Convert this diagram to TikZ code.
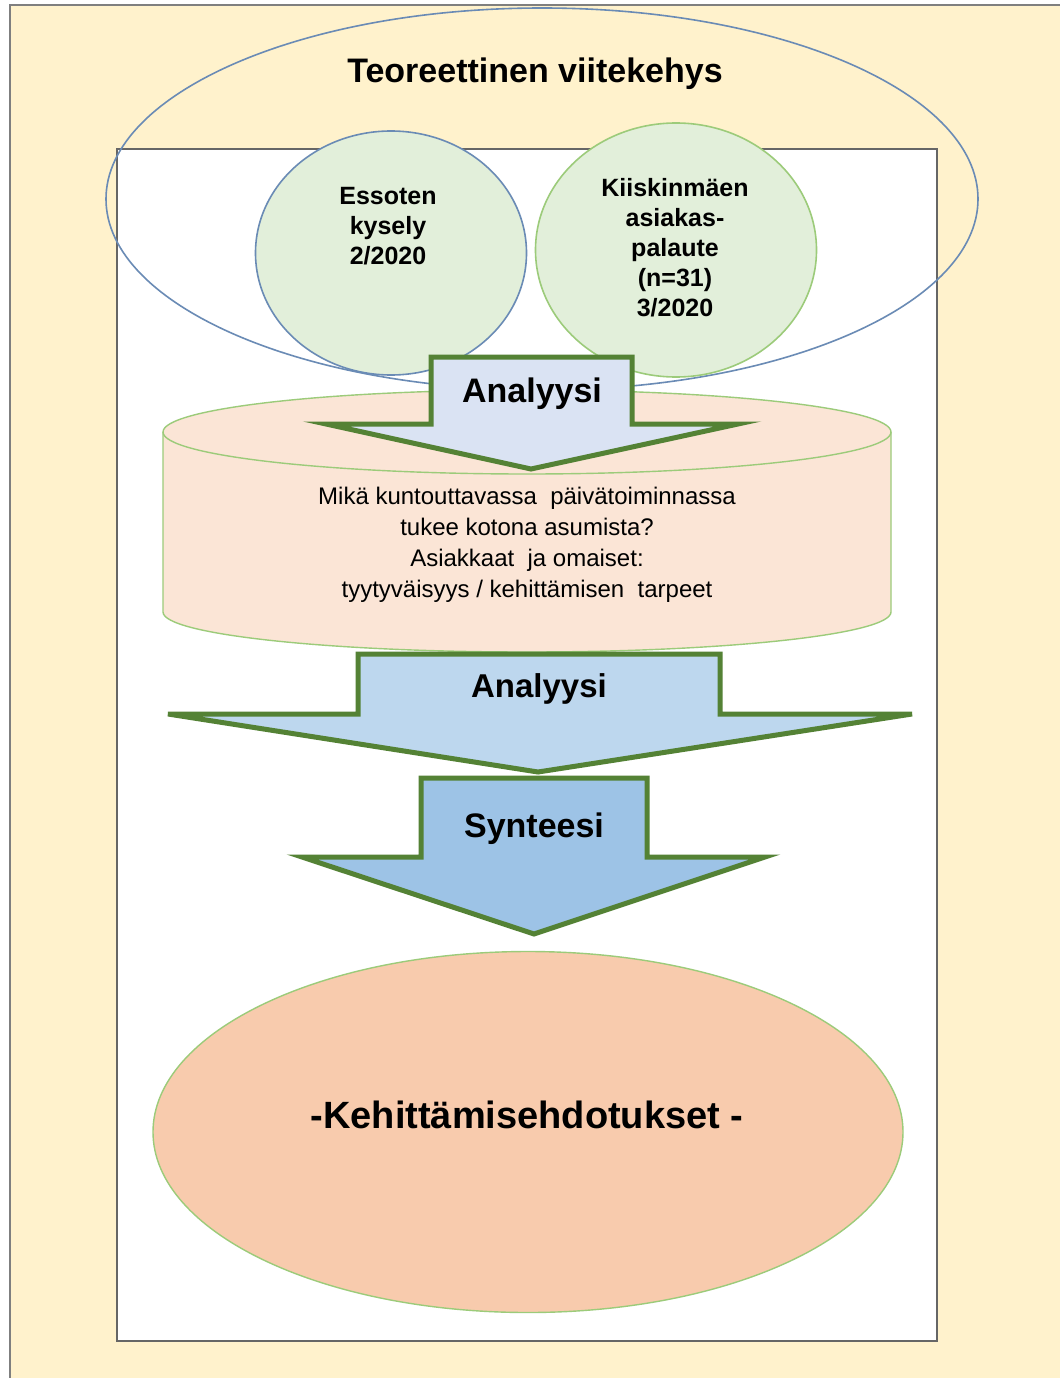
\documentclass[tikz,border=0pt]{standalone}
\usepackage{fontspec}
\setmainfont{Liberation Sans}
\usetikzlibrary{shapes.geometric}
\definecolor{pagebg}{HTML}{FFF2CC}
\definecolor{framegray}{HTML}{7F7F7F}
\definecolor{frameblue}{HTML}{6A8BB5}
\definecolor{srcfill}{HTML}{E2EFDA}
\definecolor{lightgreen}{HTML}{9CCB7A}
\definecolor{darkgreen}{HTML}{548235}
\definecolor{cylfill}{HTML}{FBE5D6}
\definecolor{arrowA}{HTML}{DAE3F3}
\definecolor{arrowB}{HTML}{BDD7EE}
\definecolor{arrowC}{HTML}{9DC3E6}
\definecolor{resultfill}{HTML}{F8CBAD}
\tikzset{
  source/.style={ellipse, fill=srcfill, line width=1.6pt, inner sep=0pt},
  flowarrow/.style={draw=darkgreen, line width=5pt, line join=miter},
}
\begin{document}
\begin{tikzpicture}[x=1pt,y=1pt]
\useasboundingbox (0,0) rectangle (1060,-1378);
% page background and frame
\fill[white] (0,0) rectangle (1060,-1378);
\fill[pagebg] (10,-5) rectangle (1060,-1378);
\draw[framegray, line width=2pt] (10,-1378) -- (10,-5) -- (1060,-5);
% inner white panel
\draw[fill=white, draw=black!60, line width=2pt] (117,-149) rectangle (937,-1341);
% theoretical framework ellipse
\node[ellipse, draw=frameblue, line width=1.6pt, minimum width=872pt, minimum height=382pt, inner sep=0pt] (frame) at (542,-199) {};
\node[font=\bfseries\fontsize{34}{40}\selectfont] (frametitle) at (535,-74) {Teoreettinen viitekehys};
% data sources
\node[source, draw=frameblue, minimum width=271pt, minimum height=244pt] (essote) at (391,-253) {};
\node[font=\bfseries\fontsize{25}{30}\selectfont, align=center] (essotetext) at (388,-226) {Essoten\\kysely\\2/2020};
\node[source, draw=lightgreen, minimum width=281pt, minimum height=254pt] (kiiskinmaki) at (676,-250) {};
\node[font=\bfseries\fontsize{25}{30}\selectfont, align=center] (kiiskinmakitext) at (675,-248) {Kiiskinmäen\\asiakas-\\palaute\\(n=31)\\3/2020};
% research question cylinder
\draw[fill=cylfill, draw=lightgreen, line width=1.4pt]
  (163,-432) -- (163,-612) arc[start angle=180, end angle=360, x radius=364pt, y radius=40pt]
  -- (891,-432) arc[start angle=0, end angle=180, x radius=364pt, y radius=42pt] -- cycle;
\draw[draw=lightgreen, line width=1.4pt] (163,-432) arc[start angle=180, end angle=360, x radius=364pt, y radius=42pt];
\node[font=\fontsize{24}{31}\selectfont, align=center] (question) at (527,-545)
  {Mikä kuntouttavassa\ \ päivätoiminnassa\\tukee kotona asumista?\\Asiakkaat\ \ ja omaiset:\\tyytyväisyys / kehittämisen\ \ tarpeet};
% first analysis arrow
\draw[flowarrow, fill=arrowA] (431,-357) -- (632,-357) -- (632,-424) -- (738,-424) -- (531,-469) -- (326,-424) -- (431,-424) -- cycle;
\node[font=\bfseries\fontsize{34}{40}\selectfont] (analysis1) at (532,-394) {Analyysi};
% second analysis arrow
\draw[flowarrow, fill=arrowB] (358,-654) -- (720,-654) -- (720,-714) -- (912,-714) -- (538,-772) -- (168,-714) -- (358,-714) -- cycle;
\node[font=\bfseries\fontsize{33}{40}\selectfont] (analysis2) at (539,-689) {Analyysi};
% synthesis arrow
\draw[flowarrow, fill=arrowC] (421,-778) -- (647,-778) -- (647,-857) -- (765,-857) -- (534,-934) -- (302,-857) -- (421,-857) -- cycle;
\node[font=\bfseries\fontsize{34}{40}\selectfont] (synthesis) at (534,-829) {Synteesi};
% development proposals
\node[ellipse, fill=resultfill, draw=lightgreen, line width=1.4pt, minimum width=750pt, minimum height=361pt, inner sep=0pt] (proposals) at (528,-1132) {};
\node[font=\bfseries\fontsize{38}{44}\selectfont] (proposalstext) at (527,-1115) {-Kehittämisehdotukset -};
\end{tikzpicture}
\end{document}
